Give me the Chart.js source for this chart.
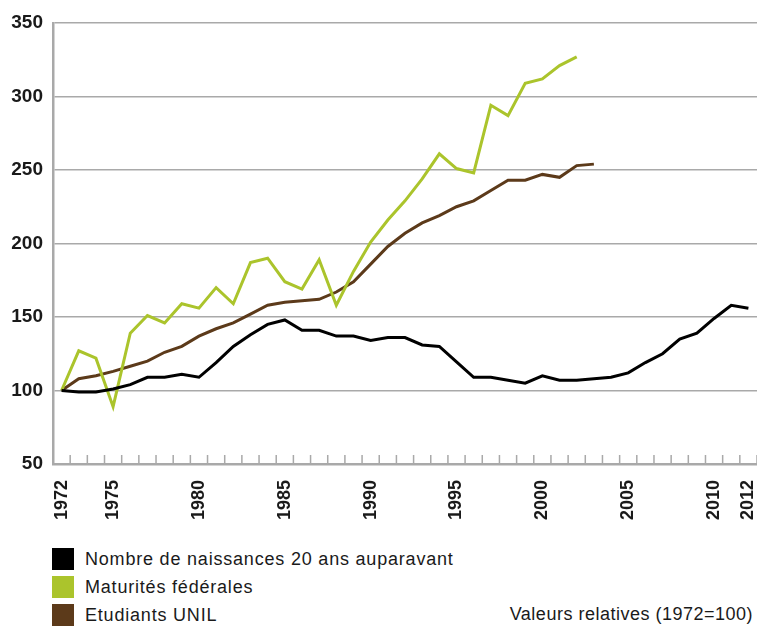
<!DOCTYPE html>
<html>
<head>
<meta charset="utf-8">
<script src="https://cdn.jsdelivr.net/npm/chart.js@4.4.1/dist/chart.umd.min.js"></script>
<style>
  body { margin: 0; background: #fff; }
  #wrap { position: relative; width: 757px; height: 626px; overflow: hidden; }
  #chart { position: absolute; left: 0; top: 0; }
  .legend, #note { font-family: "Liberation Sans", Arial, sans-serif; font-size: 18px; color: #1a1a1a; }
  .legend { position: absolute; left: 0; top: 0; letter-spacing: 0.8px; }
  .row { position: absolute; left: 52px; height: 22px; white-space: nowrap; }
  .sw { position: absolute; left: 0; top: 0; width: 22px; height: 22px; }
  .lbl { position: absolute; left: 33px; top: 0px; line-height: 22px; }
  #note { position: absolute; right: 4px; top: 603px; line-height: 22px; white-space: nowrap; letter-spacing: 0.5px; }
</style>
</head>
<body>
<div id="wrap">
  <canvas id="chart" width="757" height="530"></canvas>
  <div class="legend" id="legend"></div>
  <div id="note">Valeurs relatives (1972=100)</div>
</div>
<script>
// years 1972..2012
const years = ['1972','1973','1974','1975','1976','1977','1978','1979','1980','1981',
  '1982','1983','1984','1985','1986','1987','1988','1989','1990','1991',
  '1992','1993','1994','1995','1996','1997','1998','1999','2000','2001',
  '2002','2003','2004','2005','2006','2007','2008','2009','2010','2011','2012'];

// only these years get a label under the axis
const shownYears = ['1972','1975','1980','1985','1990','1995','2000','2005','2010','2012'];

const yTicks = [50, 100, 150, 200, 250, 300, 350];

const naissances = [100, 99, 99, 101, 104, 109, 109, 111, 109, 119,
  130, 138, 145, 148, 141, 141, 137, 137, 134, 136,
  136, 131, 130, 119.5, 109, 109, 107, 105, 110, 107,
  107, 108, 109, 112, 119, 125, 135, 139, 149, 158, 156];

const maturites = [100, 127, 122, 89, 139, 151, 146, 159, 156, 170,
  159, 187, 190, 174, 169, 189, 158, 181, 201, 216,
  229, 244, 261, 251, 248, 294, 287, 309, 312, 321, 327];

const etudiants = [100, 108, 110, 113, 116.5, 120, 126, 130, 137, 142,
  146, 152, 158, 160, 161, 162, 167, 174, 186, 198,
  207, 214, 219, 225, 229, 236, 243, 243, 247, 245, 253, 254];

const series = [
  { label: 'Nombre de naissances 20 ans auparavant', data: naissances, color: '#000000' },
  { label: 'Maturités fédérales', data: maturites, color: '#abc42c' },
  { label: 'Etudiants UNIL', data: etudiants, color: '#5c3a1a' }
];

const gridGrey = '#a9a9a9';
const labelFamily = '"Liberation Sans", Arial, sans-serif';

// small upward tick marks on the category boundaries of the x axis
const innerTicks = {
  id: 'innerTicks',
  afterDraw(chart) {
    const xs = chart.scales.x;
    const ctx = chart.ctx;
    const n = years.length;
    const step = (xs.getPixelForValue(1) - xs.getPixelForValue(0));
    ctx.save();
    ctx.strokeStyle = gridGrey;
    ctx.lineWidth = 1.5;
    ctx.beginPath();
    for (let i = 0; i <= n; i++) {
      const x = xs.getPixelForValue(0) - step / 2 + i * step;
      ctx.moveTo(x, xs.top - 9);
      ctx.lineTo(x, xs.top);
    }
    ctx.stroke();
    ctx.restore();
  }
};

new Chart(document.getElementById('chart'), {
  type: 'line',
  data: {
    labels: years,
    datasets: series.map(s => ({
      label: s.label,
      data: s.data,
      borderColor: s.color,
      backgroundColor: s.color,
      borderWidth: 3,
      pointRadius: 0,
      tension: 0,
      fill: false
    }))
  },
  options: {
    responsive: false,
    animation: false,
    layout: { padding: { top: 23, right: 0, left: 0, bottom: 0 } },
    plugins: {
      legend: { display: false },
      tooltip: { enabled: false }
    },
    scales: {
      x: {
        type: 'category',
        offset: true,
        grid: { display: false },
        border: { display: true, color: gridGrey, width: 2.5 },
        ticks: {
          autoSkip: false,
          minRotation: 90,
          maxRotation: 90,
          padding: 8,
          color: '#1a1a1a',
          font: { family: labelFamily, size: 18, weight: 'bold' },
          callback(value) {
            const y = years[value];
            return shownYears.includes(y) ? y : '';
          }
        },
        afterFit(scale) {
          scale.height = 66;
          scale.paddingLeft = 0;
          scale.paddingRight = 0;
        }
      },
      y: {
        min: 50,
        max: 350,
        afterBuildTicks(scale) { scale.ticks = yTicks.map(v => ({ value: v })); },
        grid: { color: gridGrey, lineWidth: 1.5, drawTicks: false },
        border: { display: true, color: gridGrey, width: 2.5 },
        ticks: {
          padding: 10,
          color: '#1a1a1a',
          font: { family: labelFamily, size: 19, weight: 'bold' }
        },
        afterFit(scale) {
          scale.width = 53;
          scale.paddingTop = 0;
          scale.paddingBottom = 0;
        }
      }
    }
  },
  plugins: [innerTicks]
});

// legend rows below the chart
const legend = document.getElementById('legend');
series.forEach((s, i) => {
  const row = document.createElement('div');
  row.className = 'row';
  row.style.top = (548 + i * 28) + 'px';
  row.innerHTML = '<div class="sw" style="background:' + s.color + '"></div><div class="lbl">' + s.label + '</div>';
  legend.appendChild(row);
});
</script>
</body>
</html>
